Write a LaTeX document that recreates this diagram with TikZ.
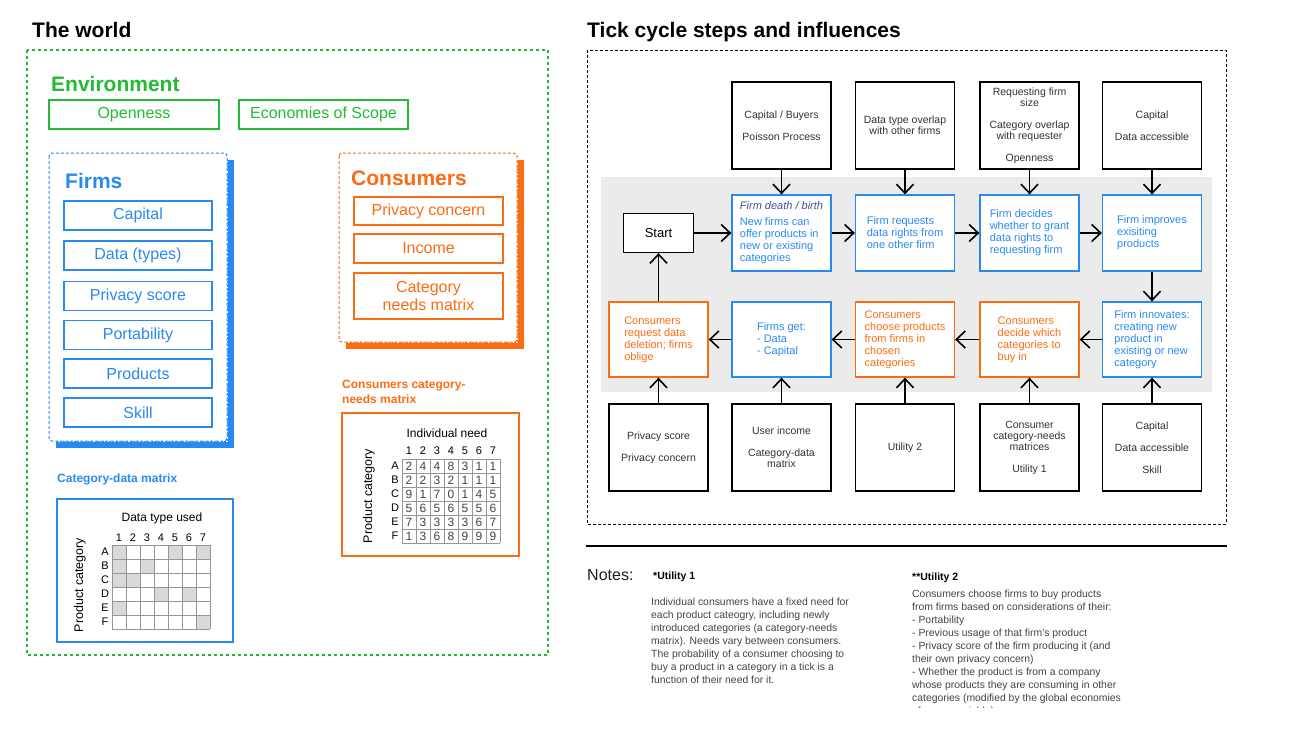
\documentclass[tikz,border=0pt]{standalone}
\usepackage{fontspec}
\setmainfont{Liberation Sans}
\usetikzlibrary{arrows.meta}
\definecolor{envgreen}{RGB}{34,187,51}
\definecolor{firmblue}{RGB}{40,138,240}
\definecolor{consorange}{RGB}{252,108,20}
\definecolor{darkitalic}{RGB}{60,82,150}
\definecolor{txtgray}{RGB}{51,51,51}
\definecolor{notegray}{RGB}{68,68,68}
\definecolor{bandgray}{RGB}{235,235,235}
\definecolor{cellgray}{RGB}{217,217,217}
\definecolor{gridgray}{RGB}{150,150,150}
\newcommand{\fs}[2]{\fontsize{#1}{#2}\selectfont}
\begin{document}
\begin{tikzpicture}[x=1pt,y=-1pt,
  head/.style={anchor=base west, inner sep=0pt, font=\bfseries\fs{21}{25}},
  envbox/.style={draw=envgreen, line width=1.4pt, text=envgreen, minimum width=170pt, minimum height=29pt, inner sep=0pt, font=\fs{16}{19}},
  firmbox/.style={draw=firmblue, line width=1.3pt, text=firmblue, minimum width=148pt, minimum height=29pt, inner sep=0pt, font=\fs{16}{19}},
  consbox/.style={draw=consorange, line width=1.3pt, text=consorange, minimum width=149pt, minimum height=29pt, inner sep=0pt, align=center, font=\fs{16}{18}},
  flow/.style={draw, fill=white, line width=1.3pt, minimum width=99pt, minimum height=76pt, inner sep=0pt, align=left, font=\fs{11}{12}},
  flowb/.style={flow, draw=firmblue, text=firmblue},
  flowo/.style={flow, draw=consorange, text=consorange},
  infl/.style={draw=black, fill=white, line width=1.3pt, minimum width=99pt, minimum height=87pt, inner sep=0pt, align=center, text=txtgray, font=\fs{10.5}{11}},
  arr/.style={line width=1.6pt, -{Straight Barb[length=9pt,width=17pt]}},
  shadowsolid/.style={line width=6pt},
  shadowedge/.style={line width=7.5pt, dash pattern=on 2pt off 1.5pt},
  gridline/.style={draw=gridgray, line width=0.8pt},
  mlabel/.style={inner sep=0pt, font=\fs{11}{12}},
  cellnum/.style={inner sep=0pt, text=notegray, font=\fs{12}{12}},
  notes/.style={inner sep=0pt, align=left, text=notegray, font=\fs{10.4}{13}},
  notehead/.style={inner sep=0pt, anchor=base west, font=\bfseries\fs{10.5}{12}}
]
\fill[white] (0,0) rectangle (1289,737);
\useasboundingbox (0,0) rectangle (1289,737);

% ---------------- The world ----------------
\node[head] (tw) at (32,37) {The world};
\draw[envgreen, line width=1.5pt, dash pattern=on 3pt off 3pt] (27,50) rectangle (548,655);
\node[head, text=envgreen] (env) at (51,91) {Environment};
\node[envbox] (open) at (134,114.5) {Openness};
\node[envbox, minimum width=169pt] (eos) at (323.5,114.5) {Economies of Scope};

% Firms
\draw[firmblue, shadowsolid] (56,444.5) -- (230.5,444.5) -- (230.5,160);
\draw[firmblue, shadowedge] (56,444.5) -- (230.5,444.5) -- (230.5,160);
\draw[firmblue, fill=white, line width=1pt, dash pattern=on 3pt off 2pt, rounded corners=3pt] (49,153) rectangle (227,441);
\node[head, text=firmblue] (firms) at (65,188) {Firms};
\node[firmbox] (fcap) at (138,215.5) {Capital};
\node[firmbox] (fdat) at (138,255.5) {Data (types)};
\node[firmbox] (fpriv) at (138,296) {Privacy score};
\node[firmbox] (fport) at (138,335) {Portability};
\node[firmbox] (fprod) at (138,373.5) {Products};
\node[firmbox] (fskill) at (138,412.5) {Skill};

% Consumers
\draw[consorange, shadowsolid] (346,345.5) -- (520.5,345.5) -- (520.5,160);
\draw[consorange, shadowedge] (346,345.5) -- (520.5,345.5) -- (520.5,160);
\draw[consorange, fill=white, line width=1pt, dash pattern=on 3pt off 2pt, rounded corners=3pt] (339,153) rectangle (517,342);
\node[head, text=consorange] (cons) at (351,185) {Consumers};
\node[consbox, minimum height=28pt] (cpriv) at (428.5,211) {Privacy concern};
\node[consbox] (cinc) at (428.5,248.5) {Income};
\node[consbox, minimum height=46pt] (cneed) at (428.5,296) {Category\\needs matrix};

% Category-data matrix
\node[inner sep=0pt, anchor=base west, text=firmblue, font=\bfseries\fs{12}{14}] (cdtitle) at (57,482.5) {Category-data matrix};
\draw[firmblue, line width=1.3pt] (57,499) rectangle (233,642);
\node[inner sep=0pt, font=\fs{12}{14}] (cdhead) at (162,518) {Data type used};
\foreach \r/\c in {1/1,1/5,1/7,2/1,2/3,3/1,3/2,4/4,4/6,5/1,6/7}
  \fill[cellgray] ({112+14*(\c-1)},{545+14*(\r-1)}) rectangle ++(14,14);
\foreach \i in {0,...,7} \draw[gridline] ({112+14*\i},545) -- ({112+14*\i},629);
\foreach \j in {0,...,6} \draw[gridline] (112,{545+14*\j}) -- (210,{545+14*\j});
\foreach \c in {1,...,7} \node[mlabel] (cdc\c) at ({112+14*\c-7},538) {\c};
\foreach \l [count=\r] in {A,B,C,D,E,F} \node[mlabel] (cdr\r) at (105,{545+14*\r-7}) {\l};
\node[inner sep=0pt, rotate=90, font=\fs{12.5}{14}] (cdy) at (80,585) {Product category};

% Consumers category-needs matrix
\node[inner sep=0pt, anchor=north west, align=left, text=consorange, font=\bfseries\fs{12}{15}] (cntitle) at (342,379.5) {Consumers category-\\needs matrix};
\draw[consorange, line width=1.3pt] (342,413) rectangle (519,556);
\node[inner sep=0pt, font=\fs{12}{14}] (cnhead) at (447,433) {Individual need};
\foreach \i in {0,...,7} \draw[gridline] ({402+14*\i},459) -- ({402+14*\i},543);
\foreach \j in {0,...,6} \draw[gridline] (402,{459+14*\j}) -- (500,{459+14*\j});
\foreach \c in {1,...,7} \node[mlabel] (cnc\c) at ({402+14*\c-7},451) {\c};
\foreach \l [count=\r] in {A,B,C,D,E,F} \node[mlabel] (cnr\r) at (395,{459+14*\r-7}) {\l};
\foreach \row [count=\r] in {{2,4,4,8,3,1,1},{2,2,3,2,1,1,1},{9,1,7,0,1,4,5},{5,6,5,6,5,5,6},{7,3,3,3,3,6,7},{1,3,6,8,9,9,9}}
  \foreach \v [count=\c] in \row
    \node[cellnum] (cn-\r-\c) at ({402+14*\c-7},{459+14*\r-7}) {\v};
\node[inner sep=0pt, rotate=90, font=\fs{12.5}{14}] (cny) at (369,496) {Product category};

% ---------------- Tick cycle ----------------
\node[head] (tc) at (587,37) {Tick cycle steps and influences};
\draw[black, line width=1pt, dash pattern=on 3pt off 2pt] (587,50) rectangle (1226,524);
\fill[bandgray] (601,177) rectangle (1212,392);

% influence boxes (top)
\node[infl] (i1) at (781.5,125.5) {Capital / Buyers\\[11pt]Poisson Process};
\node[infl] (i2) at (905,125.5) {Data type overlap\\with other firms};
\node[infl] (i3) at (1029.5,125.5) {Requesting firm\\size\\[11pt]Category overlap\\with requester\\[11pt]Openness};
\node[infl] (i4) at (1152,125.5) {Capital\\[11pt]Data accessible};

% row 1
\node[draw, fill=white, line width=1.3pt, minimum width=70pt, minimum height=39pt, inner sep=0pt, font=\fs{13}{15}] (start) at (658.5,233) {Start};
\node[flowb] (f1) at (781.5,233) {{\color{darkitalic}\itshape Firm death / birth}\\[4pt]New firms can\\offer products in\\new or existing\\categories};
\node[flowb] (f2) at (905,233) {Firm requests\\data rights from\\one other firm};
\node[flowb] (f3) at (1029.5,233) {Firm decides\\whether to grant\\data rights to\\requesting firm};
\node[flowb] (f4) at (1152,233) {Firm improves\\exisiting\\products};

% row 2
\node[flowo, minimum height=75pt] (g1) at (658.5,339.5) {Consumers\\request data\\deletion; firms\\oblige};
\node[flowb, minimum height=75pt] (g2) at (781.5,339.5) {Firms get:\\- Data\\- Capital};
\node[flowo, minimum height=75pt] (g3) at (905,339.5) {Consumers\\choose products\\from firms in\\chosen\\categories};
\node[flowo, minimum height=75pt] (g4) at (1029.5,339.5) {Consumers\\decide which\\categories to\\buy in};
\node[flowb, minimum height=75pt] (g5) at (1152,339.5) {Firm innovates:\\creating new\\product in\\existing or new\\category};

% influence boxes (bottom)
\node[infl] (b1) at (658.5,447.5) {Privacy score\\[11pt]Privacy concern};
\node[infl] (b2) at (781.5,447.5) {User income\\[11pt]Category-data\\matrix};
\node[infl] (b3) at (905,447.5) {Utility 2};
\node[infl] (b4) at (1029.5,447.5) {Consumer\\category-needs\\matrices\\[11pt]Utility 1};
\node[infl] (b5) at (1152,447.5) {Capital\\[11pt]Data accessible\\[11pt]Skill};

% arrows
\draw[arr] (i1) -- (f1);
\draw[arr] (i2) -- (f2);
\draw[arr] (i3) -- (f3);
\draw[arr] (i4) -- (f4);
\draw[arr] (start) -- (f1);
\draw[arr] (f1) -- (f2);
\draw[arr] (f2) -- (f3);
\draw[arr] (f3) -- (f4);
\draw[arr] (f4) -- (g5);
\draw[arr] (g5) -- (g4);
\draw[arr] (g4) -- (g3);
\draw[arr] (g3) -- (g2);
\draw[arr] (g2) -- (g1);
\draw[arr] (g1) -- (start);
\draw[arr] (b1) -- (g1);
\draw[arr] (b2) -- (g2);
\draw[arr] (b3) -- (g3);
\draw[arr] (b4) -- (g4);
\draw[arr] (b5) -- (g5);

% ---------------- Notes ----------------
\coordinate (nl) at (586,546);
\coordinate (nr) at (1227,546);
\draw[black, line width=1.2pt] (nl) -- (nr);
\node[inner sep=0pt, anchor=base west, text=black!87, font=\fs{16}{18}] (notes) at (587,580) {Notes:};
\node[notehead] (u1) at (653,579.5) {*Utility 1};
\node[notes, anchor=north west] (n1) at (651,597.5) {Individual consumers have a fixed need for\\each product cateogry, including newly\\introduced categories (a category-needs\\matrix). Needs vary between consumers.\\The probability of a consumer choosing to\\buy a product in a category in a tick is a\\function of their need for it.};
\node[notehead] (u2) at (912,580) {**Utility 2};
\begin{scope}
\clip (880,550) rectangle (1240,707);
\node[notes, anchor=north west] (n2) at (912,589.5) {Consumers choose firms to buy products\\from firms based on considerations of their:\\- Portability\\- Previous usage of that firm’s product\\- Privacy score of the firm producing it (and\\their own privacy concern)\\- Whether the product is from a company\\whose products they are consuming in other\\categories (modified by the global economies\\of scope variable)};
\end{scope}
\end{tikzpicture}
\end{document}
